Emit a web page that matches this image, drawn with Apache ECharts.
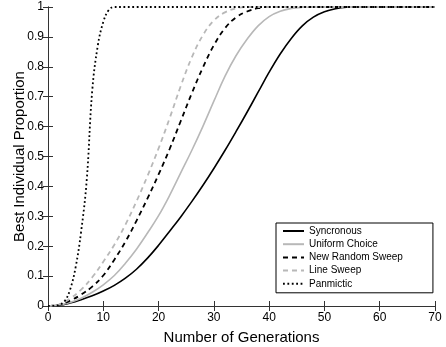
<!DOCTYPE html>
<html>
<head>
<meta charset="utf-8">
<script src="https://cdn.jsdelivr.net/npm/echarts@6/dist/echarts.min.js"></script>
<style>
  html, body { margin: 0; padding: 0; background: #fff; }
  #chart { width: 446px; height: 347px; }
</style>
</head>
<body>
<div id="chart"></div>
<script>
// generations (x) and best individual proportion (y)
const syncronous = [
  [0, 0], [2, 0.002], [4, 0.01], [6, 0.021], [8, 0.034], [10, 0.05], [12, 0.069],
  [14, 0.093], [16, 0.123], [18, 0.16], [20, 0.203], [22, 0.25], [24, 0.298],
  [26, 0.349], [28, 0.403], [30, 0.46], [32, 0.52], [34, 0.583], [36, 0.648],
  [38, 0.715], [40, 0.782], [42, 0.843], [44, 0.895], [46, 0.937], [48, 0.966],
  [50, 0.984], [52, 0.994], [54, 0.999], [56, 1], [70, 1]
];
const uniformChoice = [
  [0, 0], [2, 0.003], [4, 0.012], [6, 0.026], [8, 0.046], [10, 0.071], [12, 0.102],
  [14, 0.143], [16, 0.19], [18, 0.244], [20, 0.302], [22, 0.37], [24, 0.445],
  [26, 0.52], [28, 0.6], [30, 0.685], [32, 0.768], [34, 0.837], [36, 0.892],
  [38, 0.937], [40, 0.968], [42, 0.986], [44, 0.995], [46, 0.999], [48, 1], [70, 1]
];
const newRandomSweep = [
  [0, 0], [2, 0.004], [4, 0.018], [6, 0.038], [8, 0.065], [10, 0.102], [12, 0.155],
  [14, 0.215], [16, 0.285], [18, 0.36], [20, 0.44], [22, 0.525], [24, 0.618],
  [26, 0.711], [28, 0.797], [30, 0.872], [32, 0.929], [34, 0.965], [36, 0.985],
  [38, 0.996], [40, 1], [70, 1]
];
const lineSweep = [
  [0, 0], [2, 0.005], [4, 0.025], [6, 0.055], [8, 0.096], [10, 0.148], [12, 0.205],
  [14, 0.272], [16, 0.35], [18, 0.435], [20, 0.527], [22, 0.628], [24, 0.735],
  [26, 0.831], [28, 0.905], [30, 0.955], [32, 0.982], [34, 0.995], [36, 1], [70, 1]
];
const panmictic = [
  [0, 0], [1, 0.001], [2, 0.004], [3, 0.016], [4, 0.055], [5, 0.13], [6, 0.25],
  [7, 0.42], [8, 0.72], [9, 0.87], [10, 0.95], [11, 0.99], [12, 1], [70, 1]
];
const seriesNames = ['Syncronous', 'Uniform Choice', 'New Random Sweep', 'Line Sweep', 'Panmictic'];

const font = "'Liberation Sans', Arial, sans-serif";
const frameColor = '#333';

const makeLine = (name, data, color, type, width) => ({
  name: name,
  type: 'line',
  data: data,
  smooth: 0.4,
  symbol: 'none',
  lineStyle: { color: color, type: type, width: width },
  itemStyle: { color: color },
  z: 3
});

const axisCommon = {
  axisLine: { show: true, lineStyle: { color: frameColor, width: 1 } },
  axisTick: { show: true, inside: true, length: 5, lineStyle: { color: frameColor } },
  splitLine: { show: false }
};

const chart = echarts.init(document.getElementById('chart'));
chart.setOption({
  animation: false,
  textStyle: { fontFamily: font },
  grid: { left: 48, right: 11, top: 7, bottom: 41, outerBoundsMode: 'none', containLabel: false },
  legend: {
    orient: 'vertical',
    left: 276,
    top: 223,
    padding: [3, 30, 4, 6],
    itemWidth: 21,
    itemHeight: 10,
    itemGap: 3.2,
    borderColor: '#000',
    borderWidth: 1,
    backgroundColor: '#fff',
    itemStyle: { color: 'transparent', borderColor: 'transparent', borderWidth: 0 },
    textStyle: { fontSize: 10, color: '#000', fontFamily: font },
    data: seriesNames
  },
  xAxis: [
    Object.assign({
      type: 'value', min: 0, max: 70, interval: 10,
      name: 'Number of Generations', nameLocation: 'middle', nameGap: 24,
      nameMoveOverlap: false,
      nameTextStyle: { fontSize: 15, color: '#000', fontFamily: font },
      axisLabel: { fontSize: 12, color: '#000', margin: 6, fontFamily: font }
    }, axisCommon),
    Object.assign({
      type: 'value', min: 0, max: 70, interval: 10, position: 'top',
      axisLabel: { show: false }
    }, axisCommon)
  ],
  yAxis: [
    Object.assign({
      type: 'value', min: 0, max: 1, interval: 0.1,
      name: 'Best Individual Proportion', nameLocation: 'middle', nameGap: 21,
      nameMoveOverlap: false,
      nameTextStyle: { fontSize: 15, color: '#000', fontFamily: font },
      axisLabel: { fontSize: 12, color: '#000', margin: 4, fontFamily: font }
    }, axisCommon),
    Object.assign({
      type: 'value', min: 0, max: 1, interval: 0.1, position: 'right',
      axisLabel: { show: false }
    }, axisCommon)
  ],
  series: [
    makeLine('Syncronous', syncronous, '#000', 'solid', 1.6),
    makeLine('Uniform Choice', uniformChoice, '#b8b8b8', 'solid', 1.6),
    makeLine('New Random Sweep', newRandomSweep, '#000', [5, 4], 1.8),
    makeLine('Line Sweep', lineSweep, '#b8b8b8', [5, 4], 1.8),
    makeLine('Panmictic', panmictic, '#000', [1.8, 2.6], 1.8)
  ]
});
</script>
</body>
</html>
